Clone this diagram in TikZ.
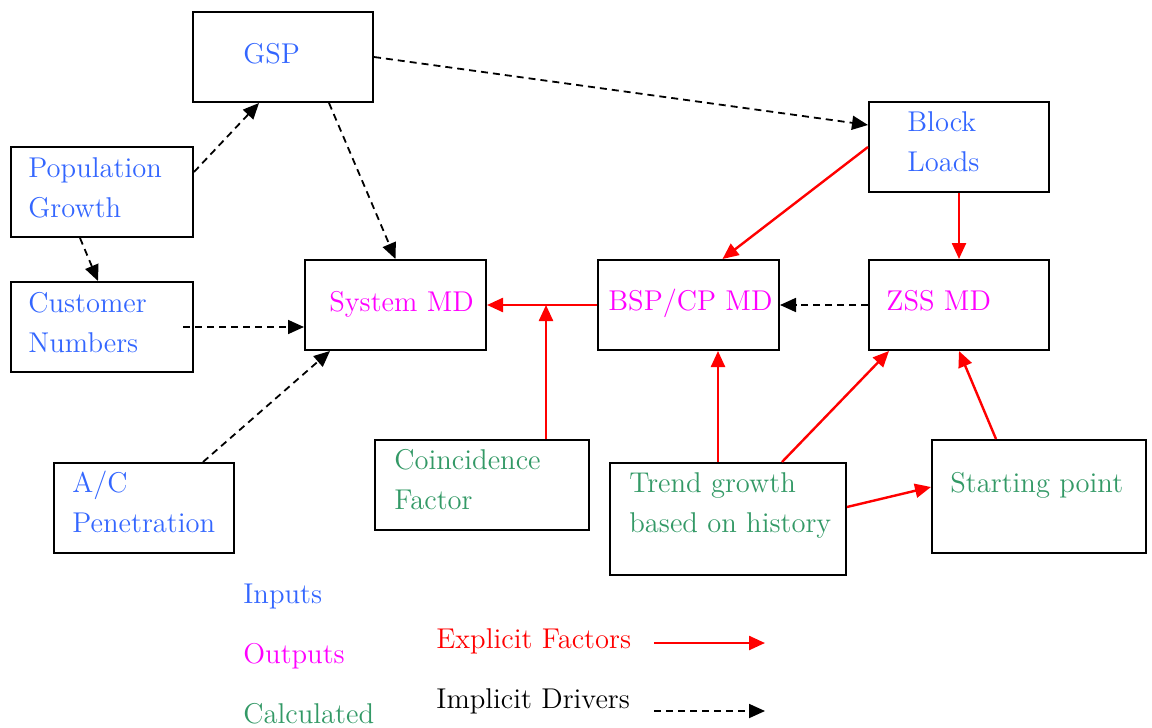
\documentclass[tikz,border=0pt]{standalone}
\usepackage{tikz}
\usetikzlibrary{arrows.meta}
\definecolor{inblue}{RGB}{51,102,255}
\definecolor{outpink}{RGB}{255,0,255}
\definecolor{calcgreen}{RGB}{51,153,102}

\begin{document}
\begin{tikzpicture}[x=0.5pt,y=-0.5pt,
        box/.style={draw,line width=1pt,inner sep=0pt,minimum width=90pt,minimum height=45pt},
        lbl/.style={anchor=north west,inner sep=0pt,align=left,font=\fontsize{14.3}{20}\selectfont},
        expl/.style={red,line width=1.2pt,-{Triangle[length=8pt,width=7pt]}},
        impl/.style={line width=0.9pt,dash pattern=on 3.5pt off 2.5pt,-{Triangle[length=8pt,width=7pt]}}]
        \useasboundingbox (0,0) rectangle (1152,728);
        % boxes
        \node[box] (gsp) at (283,57) {};
        \node[box,minimum width=91pt] (pop) at (102,192) {};
        \node[box,minimum width=91pt] (cust) at (102,327) {};
        \node[box,minimum width=90.5pt] (sys) at (395.5,305) {};
        \node[box] (ac) at (144,508) {};
        \node[box,minimum width=107pt] (coin) at (482,485) {};
        \node[box,minimum width=90.5pt] (bsp) at (688.5,305) {};
        \node[box] (zss) at (959,305) {};
        \node[box] (block) at (959,147) {};
        \node[box,minimum width=118pt,minimum height=56pt] (trend) at (728,519) {};
        \node[box,minimum width=107pt,minimum height=56.5pt] (start) at (1039,496.5) {};
        % texts
        \node[lbl,text=inblue] (gsptxt) at (243,35) {\strut GSP};
        \node[lbl,text=inblue] (poptxt) at (28,149) {\strut Population\\Growth};
        \node[lbl,text=inblue] (custtxt) at (28,284) {\strut Customer\\Numbers};
        \node[lbl,text=outpink] (systxt) at (329,283) {\strut System MD};
        \node[lbl,text=inblue] (actxt) at (72,464) {\strut A/C\\Penetration};
        \node[lbl,text=calcgreen] (cointxt) at (394,441) {\strut Coincidence\\Factor};
        \node[lbl,text=outpink] (bsptxt) at (608,282) {\strut BSP/CP MD};
        \node[lbl,text=outpink] (zsstxt) at (886,282) {\strut ZSS MD};
        \node[lbl,text=inblue] (blocktxt) at (907,103) {\strut Block\\Loads};
        \node[lbl,text=calcgreen] (trendtxt) at (629,464) {\strut Trend growth\\based on history};
        \node[lbl,text=calcgreen] (starttxt) at (950,464) {\strut Starting point};
        % implicit drivers
        \draw[impl] ([yshift=10pt]pop.east) -- ([xshift=-12pt]gsp.south);
        \draw[impl] ([xshift=23pt]gsp.south) -- (sys.north);
        \draw[impl] (gsp.east) -- ([yshift=11pt]block.west);
        \draw[impl] ([xshift=-11pt]pop.south) -- ([xshift=-2pt]cust.north);
        \draw[impl] ([xshift=-5.5pt]cust.east) -- ([yshift=-11pt]sys.west);
        \draw[impl] ([xshift=29.5pt]ac.north) -- ([xshift=-32.75pt]sys.south);
        \draw[impl] (zss.west) -- (bsp.east);
        % explicit factors
        \coordinate (jn) at (546,305);
        \draw[expl] (bsp.west) -- (sys.east);
        \draw[expl] ([xshift=32pt]coin.north) -- (jn);
        \draw[expl] (block.west) -- ([xshift=17pt]bsp.north);
        \draw[expl] (block.south) -- (zss.north);
        \draw[expl] ([xshift=-5pt]trend.north) -- ([xshift=14.75pt]bsp.south);
        \draw[expl] ([xshift=27pt]trend.north) -- ([xshift=-35pt]zss.south);
        \draw[expl] ([yshift=6pt]trend.east) -- ([yshift=4.75pt]start.west);
        \draw[expl] ([xshift=-21.5pt]start.north) -- (zss.south);
        % legend
        \node[lbl,text=inblue] (inputs) at (243,575) {\strut Inputs};
        \node[lbl,text=outpink] (outputs) at (243,635) {\strut Outputs};
        \node[lbl,text=calcgreen] (calc) at (243,695) {\strut Calculated};
        \node[lbl,text=red] (expltxt) at (436,620) {\strut Explicit Factors};
        \node[lbl] (impltxt) at (436,680) {\strut Implicit Drivers};
        \coordinate (ea) at (654,643);
        \coordinate (eb) at (765,643);
        \coordinate (ia) at (654,711);
        \coordinate (ib) at (765,711);
        \draw[expl] (ea) -- (eb);
        \draw[impl] (ia) -- (ib);
\end{tikzpicture}
\end{document}
